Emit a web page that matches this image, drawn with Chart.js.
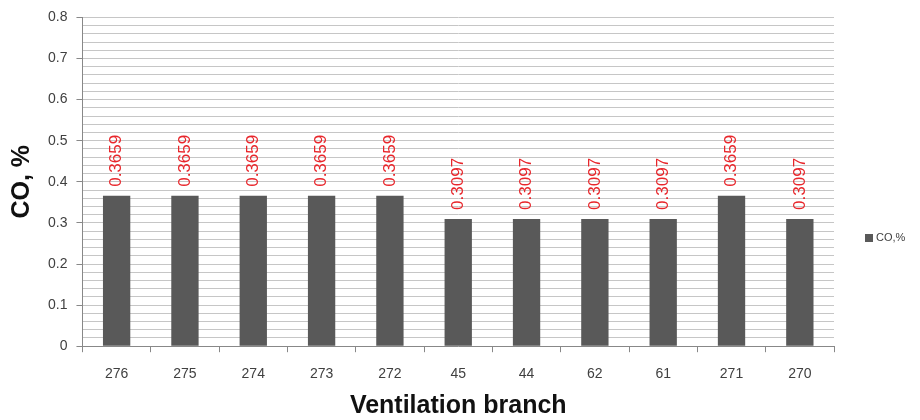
<!DOCTYPE html>
<html>
<head>
<meta charset="utf-8">
<script src="https://cdn.jsdelivr.net/npm/chart.js@4/dist/chart.umd.min.js"></script>
<style>
  html, body { margin: 0; padding: 0; background: #ffffff; }
  #wrap { width: 920px; height: 420px; }
</style>
</head>
<body>
<div id="wrap"><canvas id="chart" width="920" height="420"></canvas></div>
<script>
// Ventilation branches and CO concentration in each
const branches = ['276', '275', '274', '273', '272', '45', '44', '62', '61', '271', '270'];
const coValues = [0.3659, 0.3659, 0.3659, 0.3659, 0.3659, 0.3097, 0.3097, 0.3097, 0.3097, 0.3659, 0.3097];
const seriesName = 'CO,%';
const yMin = 0, yMax = 0.8, yStep = 0.02, yLabelStep = 0.1;

const FONT = '"Liberation Sans", Arial, sans-serif';
const BAR_COLOR = '#595959';

function isMajor(v) {
  return Math.round(v * 100) % Math.round(yLabelStep * 100) === 0;
}

// Rotated value labels above each bar
const valueLabels = {
  id: 'valueLabels',
  afterDatasetsDraw(chart) {
    const ctx = chart.ctx;
    const meta = chart.getDatasetMeta(0);
    ctx.save();
    ctx.fillStyle = '#e8262b';
    ctx.font = '17px ' + FONT;
    ctx.textAlign = 'left';
    ctx.textBaseline = 'middle';
    meta.data.forEach((bar, i) => {
      ctx.save();
      ctx.translate(bar.x, bar.y - 9);
      ctx.rotate(-Math.PI / 2);
      ctx.fillText(String(coValues[i]), 0, 0);
      ctx.restore();
    });
    ctx.restore();
  }
};

// Legend entry to the right of the plot
const sideLegend = {
  id: 'sideLegend',
  afterDraw(chart) {
    const ctx = chart.ctx;
    const a = chart.chartArea;
    const x = a.right + 31;
    const y = chart.height / 2 + 28;
    ctx.save();
    ctx.fillStyle = BAR_COLOR;
    ctx.fillRect(x, y - 4, 8, 8);
    ctx.fillStyle = '#404040';
    ctx.font = '11px ' + FONT;
    ctx.textAlign = 'left';
    ctx.textBaseline = 'middle';
    ctx.fillText(seriesName, x + 11, y);
    ctx.restore();
  }
};

new Chart(document.getElementById('chart'), {
  type: 'bar',
  data: {
    labels: branches,
    datasets: [{
      label: seriesName,
      data: coValues,
      backgroundColor: BAR_COLOR,
      borderWidth: 0,
      barPercentage: 0.4,
      categoryPercentage: 1.0
    }]
  },
  options: {
    responsive: false,
    animation: false,
    layout: { padding: { top: 4, right: 86, bottom: 4, left: 7 } },
    plugins: {
      legend: { display: false },
      tooltip: { enabled: false }
    },
    scales: {
      x: {
        offset: true,
        grid: {
          offset: true,
          drawOnChartArea: false,
          drawTicks: true,
          tickLength: 6,
          tickColor: '#888888'
        },
        border: { color: '#888888', width: 1 },
        ticks: {
          color: '#404040',
          font: { family: FONT, size: 14 },
          padding: 14
        },
        title: {
          display: true,
          text: 'Ventilation branch',
          color: '#111111',
          font: { family: FONT, size: 25, weight: 'bold', lineHeight: 0.76 },
          padding: { top: 0, bottom: 0 }
        }
      },
      y: {
        min: yMin,
        max: yMax,
        grid: {
          color: '#c6c6c6',
          lineWidth: 1,
          tickLength: 6,
          tickColor: (c) => (c.tick && isMajor(c.tick.value)) ? '#888888' : 'rgba(0,0,0,0)'
        },
        border: { color: '#888888', width: 1 },
        ticks: {
          stepSize: yStep,
          autoSkip: false,
          color: '#404040',
          font: { family: FONT, size: 14 },
          padding: 9,
          callback: (v) => isMajor(v) ? String(Math.round(v * 10) / 10) : ''
        },
        title: {
          display: true,
          text: 'CO, %',
          color: '#111111',
          font: { family: FONT, size: 25, weight: 'bold' },
          padding: { top: 0, bottom: 2 }
        }
      }
    }
  },
  plugins: [valueLabels, sideLegend]
});
</script>
</body>
</html>
